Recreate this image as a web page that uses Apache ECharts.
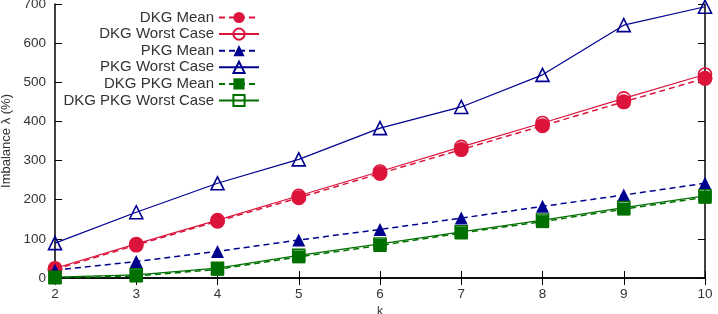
<!DOCTYPE html>
<html>
<head>
<meta charset="utf-8">
<script src="https://cdn.jsdelivr.net/npm/echarts@6/dist/echarts.min.js"></script>
<style>
  html, body { margin: 0; padding: 0; background: #fff; }
  #chart { width: 718px; height: 314px; }
</style>
</head>
<body>
<div id="chart"></div>
<script>
// k values (x axis)
const kValues = [2, 3, 4, 5, 6, 7, 8, 9, 10];
const yTicks = [0, 100, 200, 300, 400, 500, 600, 700];

// imbalance values
const dkgMean = [22, 84, 145, 205, 267, 328, 389, 450, 510];
const dkgWorst = [25, 87, 148, 210, 272, 335, 396, 459, 520];
const pkgMean = [20, 42, 68, 97, 124, 153, 183, 212, 242];
const pkgWorst = [89, 168, 242, 303, 383, 437, 519, 646, 693];
const dkgPkgMean = [0, 5, 22, 54, 83, 115, 144, 176, 206];
const dkgPkgWorst = [2, 8, 25, 58, 87, 118, 148, 180, 210];

const RED = "#dc143c";
const BLUE = "#00008f";
const GREEN = "#007000";
const FONT = "Liberation Sans";

const pairs = (ys) => kValues.map((k, i) => [k, ys[i]]);

const chart = echarts.init(document.getElementById("chart"));

function makeSeries(name, data, color, symbol, filled, dashed, size) {
  return {
    name: name,
    type: "line",
    data: pairs(data),
    symbol: symbol,
    symbolSize: size,
    animation: false,
    lineStyle: {
      color: color,
      width: dashed ? 1.5 : 1.2,
      type: dashed ? [6, 4] : "solid",
    },
    itemStyle: filled
      ? { color: color }
      : { color: "rgba(255,255,255,0)", borderColor: color, borderWidth: 1.6 },
  };
}

const seriesList = [
  makeSeries("DKG Mean", dkgMean, RED, "circle", true, true, 15),
  makeSeries("DKG Worst Case", dkgWorst, RED, "circle", false, false, 13),
  makeSeries("PKG Mean", pkgMean, BLUE, "triangle", true, true, 13),
  makeSeries("PKG Worst Case", pkgWorst, BLUE, "triangle", false, false, 13),
  makeSeries("DKG PKG Mean", dkgPkgMean, GREEN, "rect", true, true, 13),
  makeSeries("DKG PKG Worst Case", dkgPkgWorst, GREEN, "rect", false, false, 12),
];

// one legend per row so the icons line up on the right
const legends = seriesList.map((s, i) => ({
  data: [s.name],
  orient: "vertical",
  align: "right",
  right: 458,
  top: 10 + i * 16.6,
  padding: 0,
  itemWidth: 40,
  itemHeight: 14,
  itemGap: 0,
  selectedMode: false,
  textStyle: { fontFamily: FONT, fontSize: 15, color: "#333" },
}));

const axisLineStyle = { show: true, lineStyle: { color: "#000", width: 1.5 } };

chart.setOption({
  backgroundColor: "#fff",
  animation: false,
  grid: { left: 55, right: 13, top: 4, bottom: 36, outerBoundsMode: "none" },
  legend: legends,
  xAxis: [
    {
      type: "value",
      min: 2,
      max: 10,
      interval: 1,
      name: "k",
      nameLocation: "middle",
      nameGap: 24,
      nameTextStyle: { fontFamily: FONT, fontSize: 12, color: "#333" },
      axisLine: axisLineStyle,
      axisTick: { inside: true, length: 7, lineStyle: { color: "#000" } },
      axisLabel: { margin: 9, fontFamily: FONT, fontSize: 13.5, color: "#333" },
      splitLine: { show: false },
    },
    {
      type: "value",
      position: "top",
      min: 2,
      max: 10,
      interval: 1,
      axisLine: axisLineStyle,
      axisTick: { inside: true, length: 7, lineStyle: { color: "#000" } },
      axisLabel: { show: false },
      splitLine: { show: false },
    },
  ],
  yAxis: [
    {
      type: "value",
      min: yTicks[0],
      max: yTicks[yTicks.length - 1],
      interval: 100,
      name: "Imbalance λ (%)",
      nameLocation: "middle",
      nameGap: 39,
      nameTextStyle: { fontFamily: FONT, fontSize: 13, color: "#333" },
      axisLine: axisLineStyle,
      axisTick: { inside: true, length: 7, lineStyle: { color: "#000" } },
      axisLabel: { margin: 9, fontFamily: FONT, fontSize: 13.5, color: "#333" },
      splitLine: { show: false },
    },
    {
      type: "value",
      position: "right",
      min: 0,
      max: 700,
      interval: 100,
      axisLine: axisLineStyle,
      axisTick: { inside: true, length: 7, lineStyle: { color: "#000" } },
      axisLabel: { show: false },
      splitLine: { show: false },
    },
  ],
  series: seriesList,
});
</script>
</body>
</html>
